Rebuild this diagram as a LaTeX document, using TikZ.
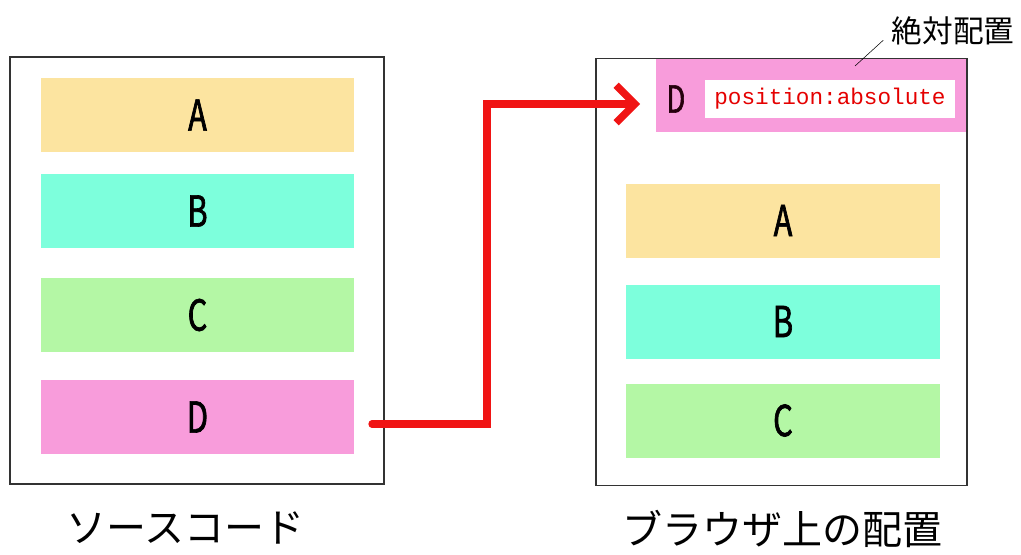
\documentclass[tikz,border=0pt]{standalone}
\usepackage{fontspec}
\usepackage{tikz}
\usetikzlibrary{arrows.meta}

\newfontfamily\jpfont{Noto Sans CJK JP}
\newfontfamily\narrowfont[FakeStretch=0.72,FakeBold=1.6]{Noto Sans CJK JP}
\newfontfamily\codefont{Liberation Mono}

\definecolor{barA}{RGB}{252,228,160}
\definecolor{barB}{RGB}{125,255,220}
\definecolor{barC}{RGB}{180,247,165}
\definecolor{barD}{RGB}{248,156,219}
\definecolor{arrowred}{RGB}{240,20,20}

\begin{document}
\begin{tikzpicture}[x=0.75pt,y=-0.75pt,semithick,inner sep=0pt]

    \tikzstyle{bar}=[minimum width=234.75pt,minimum height=55.5pt,font=\narrowfont\fontsize{32}{32}\selectfont]
    \tikzstyle{frame}=[draw=black!80,line width=1.1pt]
    \tikzstyle{caption}=[font=\jpfont\fontsize{30}{30}\selectfont]

    \useasboundingbox (0,0) rectangle (1021,554);

    % ソースコード
    \node[bar,fill=barA] (srcA) at (197.5,115) {A};
    \node[bar,fill=barB] (srcB) at (197.5,211) {B};
    \node[bar,fill=barC] (srcC) at (197.5,315) {C};
    \node[bar,fill=barD] (srcD) at (197.5,417) {D};
    \node[frame,minimum width=280.5pt,minimum height=320.25pt] (src) at (197,270.5) {};

    % ブラウザ上の配置
    \node[bar,fill=barA,minimum width=235.5pt] (outA) at (783,220.5) {A};
    \node[bar,fill=barB,minimum width=235.5pt] (outB) at (783,321.5) {B};
    \node[bar,fill=barC,minimum width=235.5pt] (outC) at (783,420.5) {C};
    \node[fill=barD,minimum width=234pt,minimum height=54.75pt] (outD) at (812,95.5) {};
    \node[font=\narrowfont\fontsize{28}{28}\selectfont,text=black!80!purple] (outDlabel) at (676,99) {D};
    \node[fill=white,minimum width=187.5pt,minimum height=28.5pt,text=red!90!black,
          font=\codefont\fontsize{17}{17}\selectfont] (pos) at (830,99) {position:absolute};
    \node[frame,minimum width=278.25pt,minimum height=320.25pt] (out) at (781.5,272) {};

    % 移動
    \coordinate (start) at (372,424);
    \coordinate (tip) at (640,104);
    \draw[arrowred,line width=5.5pt,line cap=round,-{Straight Barb[length=14pt,width=28pt]}]
        (start) -- ++(115,0) |- (tip);

    % 注記
    \node[font=\jpfont\fontsize{23}{23}\selectfont] (abs) at (953,31) {絶対配置};
    \coordinate (absend) at (855,66);
    \draw[black,thin] (absend) -- ([xshift=-6pt,yshift=4pt]abs.south west);

    \node[caption] (srccap) at (185,528) {ソースコード};
    \node[caption] (outcap) at (782,529) {ブラウザ上の配置};

\end{tikzpicture}
\end{document}
